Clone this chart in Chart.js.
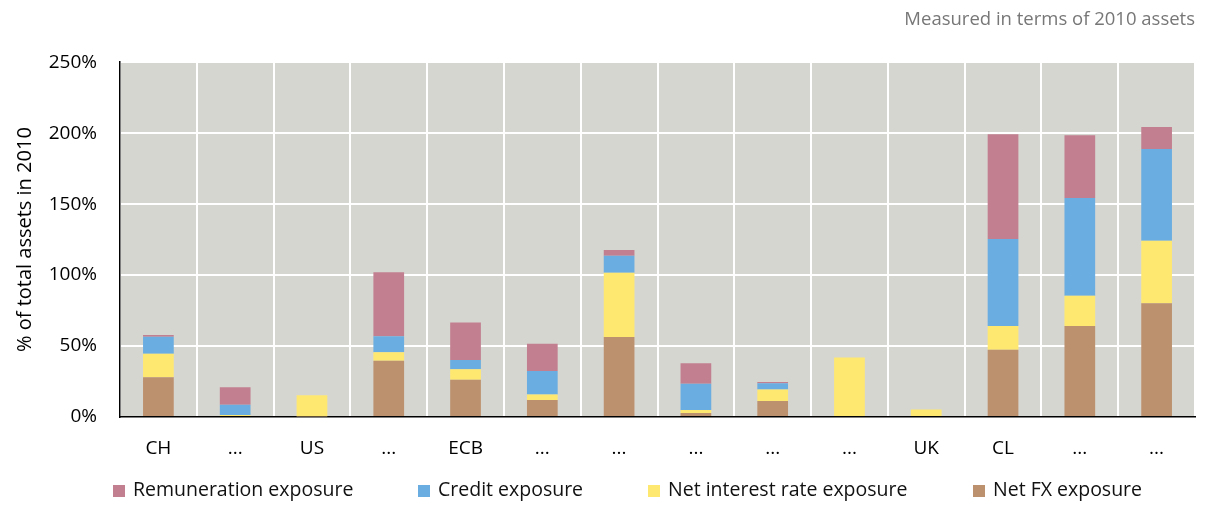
<!DOCTYPE html>
<html>
<head>
<meta charset="utf-8">
<script src="https://cdn.jsdelivr.net/npm/chart.js@4"></script>
<style>
  body { margin: 0; background: #fff; font-family: "Open Sans", sans-serif; }
  #wrap { position: relative; width: 1210px; height: 505px; }
  .key { position: absolute; top: 477px; font-size: 19.5px; line-height: 24px; color: #111; white-space: nowrap; }
  .key span { display: inline-block; width: 12px; height: 12px; margin-right: 8px; vertical-align: -1px; }
</style>
</head>
<body>
<div id="wrap">
  <canvas id="exposureGraph" width="1210" height="505"></canvas>
  <div class="key" style="left:113px"><span style="background:#C27F8F"></span>Remuneration exposure</div>
  <div class="key" style="left:418px"><span style="background:#6AADE0"></span>Credit exposure</div>
  <div class="key" style="left:648px"><span style="background:#FFE870"></span>Net interest rate exposure</div>
  <div class="key" style="left:973px"><span style="background:#BC916E"></span>Net FX exposure</div>
</div>
<script>
const banks = ["CH", "...", "US", "...", "ECB", "...", "...", "...", "...", "...", "UK", "CL", "...", "..."];

const netFx = [28, 0, 0.5, 39.7, 26.3, 12, 56.4, 2.8, 11.3, 0, 0.7, 47.3, 64.2, 80.2];
const netInterest = [16.5, 1.4, 14.8, 5.9, 7.3, 3.8, 45.2, 2.1, 8, 41.9, 4.5, 16.9, 21.2, 44];
const credit = [12, 7.3, 0, 11.3, 6.6, 16.7, 12, 18.6, 4.5, 0, 0, 61.2, 68.9, 64.7];
const remuneration = [1.2, 12.2, 0, 45.1, 26.4, 19.2, 4, 14.4, 0.9, 0, 0, 73.8, 44.2, 15.5];

const yTicks = [0, 50, 100, 150, 200, 250];

Chart.defaults.font.family = "'Open Sans', sans-serif";
Chart.defaults.color = "#000";

// grey plot background
const plotBg = {
    id: "plotBg",
    beforeDraw(chart) {
        const a = chart.chartArea;
        chart.ctx.save();
        chart.ctx.fillStyle = "#D6D6D1";
        chart.ctx.fillRect(a.left, a.top, a.right - a.left, a.bottom - a.top);
        chart.ctx.restore();
    }
};

const ctx = document.getElementById("exposureGraph");

new Chart(ctx, {
    type: "bar",
    data: {
        labels: banks,
        datasets: [
            {label: "Net FX exposure", data: netFx, backgroundColor: "#BC916E"},
            {label: "Net interest rate exposure", data: netInterest, backgroundColor: "#FFE870"},
            {label: "Credit exposure", data: credit, backgroundColor: "#6AADE0"},
            {label: "Remuneration exposure", data: remuneration, backgroundColor: "#C27F8F"}
        ]
    },
    options: {
        responsive: false,
        animation: false,
        datasets: {bar: {categoryPercentage: 1, barPercentage: 0.4}},
        layout: {padding: {left: 9, right: 15, top: 0, bottom: 44}},
        plugins: {
            legend: {display: false},
            tooltip: {enabled: false},
            title: {
                display: true,
                text: "Measured in terms of 2010 assets",
                align: "end",
                color: "#777",
                font: {size: 18.5, weight: "normal"},
                padding: {top: 9, bottom: 31}
            }
        },
        scales: {
            x: {
                stacked: true,
                grid: {color: "#fff", lineWidth: 2, drawTicks: false, offset: true},
                border: {color: "#000", width: 1.5},
                ticks: {font: {size: 19}, padding: 20, maxRotation: 0, autoSkip: false},
                afterFit: s => { s.height = 44; }
            },
            y: {
                stacked: true,
                min: 0,
                max: 250,
                afterBuildTicks: s => { s.ticks = yTicks.map(v => ({value: v})); },
                grid: {color: "#fff", lineWidth: 2, drawTicks: false},
                border: {color: "#000", width: 1.5},
                ticks: {font: {size: 19}, padding: 23, callback: v => v + "%"},
                title: {display: true, text: "% of total assets in 2010", font: {size: 20}},
                afterFit: s => { s.width = 111; }
            }
        }
    },
    plugins: [plotBg]
});
</script>
</body>
</html>
